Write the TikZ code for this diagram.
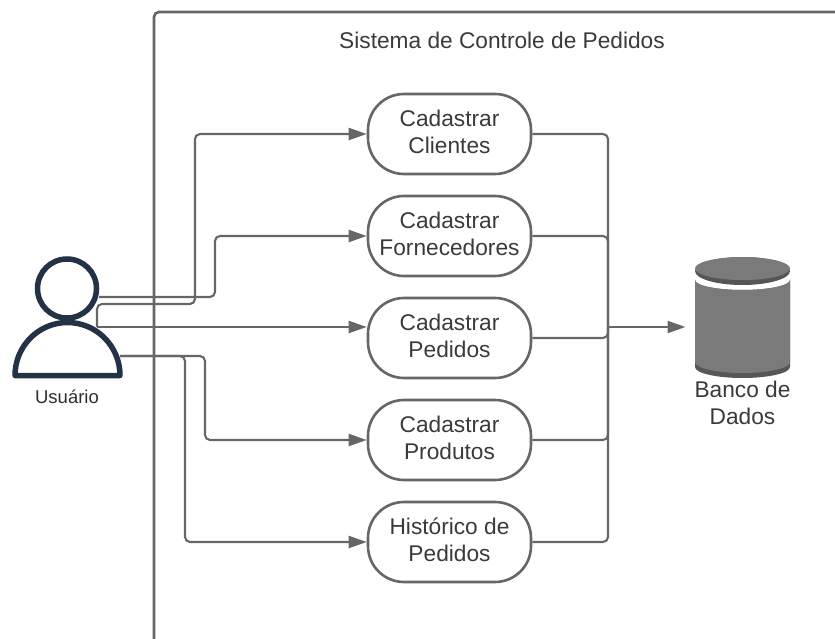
\documentclass[tikz,border=0pt]{standalone}
\usepackage{fontspec}
\setmainfont{Liberation Sans}
\usetikzlibrary{arrows.meta,positioning}
\definecolor{linha}{HTML}{666666}
\definecolor{texto}{HTML}{3A3A3A}
\definecolor{azul}{HTML}{233247}
\definecolor{banco}{HTML}{7A7A7A}
\definecolor{bancoesc}{HTML}{565656}
\tikzset{
  caso/.style={draw=linha,line width=2.6pt,rounded corners=36pt,minimum width=163pt,minimum height=80pt,align=center,text=texto,font=\fontsize{22.7}{27}\selectfont,inner sep=0pt,execute at end node={\rule[-4pt]{0pt}{4pt}}},
  rotulo/.style={text=texto,align=center,font=\fontsize{22.7}{27}\selectfont,inner sep=0pt},
  fio/.style={draw=linha,line width=2.1pt,rounded corners=5pt},
  seta/.style={fio,-{Triangle[length=18pt,width=12pt]}}
}
\begin{document}
\begin{tikzpicture}[x=1pt,y=-1pt]
\useasboundingbox (0,0) rectangle (835,639);

% sistema
\draw[draw=linha,line width=2.6pt,rounded corners=5pt] (154,640) |- (836,12);
\node (titulo) at (502,40) [rotulo] {Sistema de Controle de Pedidos};

% casos
\node (clientes) at (449.5,134) [caso] {Cadastrar\\Clientes};
\node (fornecedores) [caso, below=19.4pt of clientes] {Cadastrar\\Fornecedores};
\node (pedidos) [caso, below=19.4pt of fornecedores] {Cadastrar\\Pedidos};
\node (produtos) [caso, below=19.4pt of pedidos] {Cadastrar\\Produtos};
\node (historico) [caso, below=19.4pt of produtos] {Histórico de\\Pedidos};

% banco
\fill[bancoesc] (695,280) arc[start angle=180,end angle=0,x radius=47.5,y radius=10] -- (790,367) arc[start angle=0,end angle=180,x radius=47.5,y radius=11] -- cycle;
\fill[banco] (695,280) arc[start angle=180,end angle=0,x radius=47.5,y radius=10] -- (790,362) arc[start angle=0,end angle=180,x radius=47.5,y radius=11] -- cycle;
\fill[bancoesc] (742.5,271) ellipse[x radius=47.5,y radius=14];
\fill[banco] (742.5,268.5) ellipse[x radius=47.5,y radius=11.5];
\node (banco) at (742.5,317.5) [minimum width=114pt,minimum height=121pt,inner sep=0pt,outer sep=0pt] {};
\node (bancotxt) at (742.5,403) [rotulo] {Banco de\\Dados};

% usuario
\node (cabeca) at (67,288.5) [circle,draw=azul,line width=5.5pt,minimum size=59pt,inner sep=0pt] {};
\draw[draw=azul,line width=5.5pt,line join=round,fill=white] (15,375.5) arc[start angle=180,end angle=360,x radius=52.5,y radius=53] -- cycle;
\node (usuario) at (67,397) [text=texto!80!black,font=\fontsize{18.5}{22}\selectfont,inner sep=0pt] {Usuário};

\coordinate (u1) at (99,297);
\coordinate (u2) at (97,327);
\coordinate (u4) at (120,356);
\coordinate (c2) at (97,304);
\coordinate (v1) at (215,297);
\coordinate (v2) at (195,304);
\coordinate (v4) at (205,356);
\coordinate (v5) at (185,356);
\coordinate (j) at (608,327);

% entradas
\draw[seta] (u2) -- (c2) -- (v2) |- (clientes.west);
\draw[seta] (u1) -- (v1) |- (fornecedores.west);
\draw[seta] (u2) -- (pedidos.west |- u2);
\draw[seta] (u4) -- (v4) |- (produtos.west);
\draw[seta] (u4) -- (v5) |- (historico.west);

% saidas
\foreach \c in {clientes,fornecedores,pedidos,produtos,historico} {
\draw[fio] (\c.east) -| (j);
};
\draw[seta] (j) -- (banco.west |- j);
\end{tikzpicture}
\end{document}
